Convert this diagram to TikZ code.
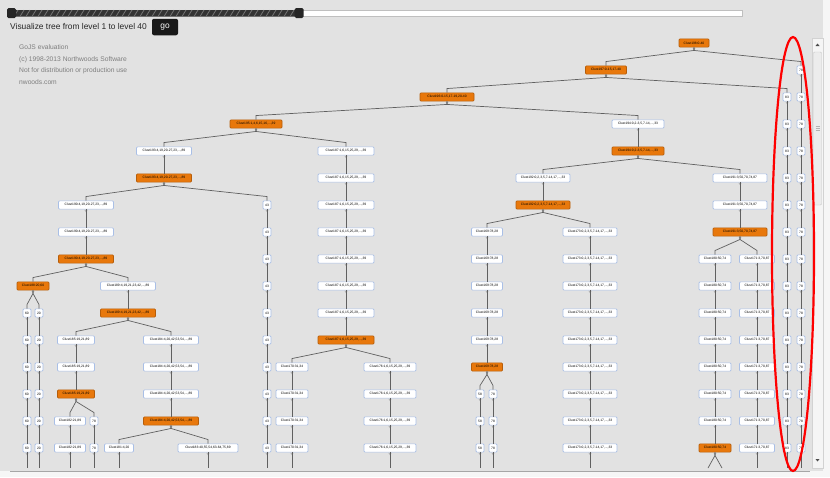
\documentclass[tikz,border=0pt]{standalone}
\usepackage{fontspec}
\setmainfont{Liberation Sans}
\usetikzlibrary{calc}
\definecolor{bg}{HTML}{E2E2E2}
\definecolor{org}{HTML}{E8780C}
\definecolor{orgb}{HTML}{B55D0A}
\definecolor{blb}{HTML}{A9BFE6}
\definecolor{edgec}{HTML}{606060}
\definecolor{wmark}{HTML}{7E7E7E}
\newcommand\labsize{\fontsize{3.3}{3.7}\selectfont}
\tikzset{
  nbase/.style={rounded corners=1pt, inner sep=0.3pt, minimum height=8.3pt, font=\labsize, line width=0.6pt},
  wn/.style={nbase, draw=blb, fill=white},
  on/.style={nbase, draw=orgb, fill=org},
  link/.style={draw=edgec, line width=0.7pt},
  port/.style={fill=gray!60},
  wmtext/.style={anchor=base west, inner sep=0pt, text=wmark, font=\fontsize{6.7}{8}\selectfont},
}
\newcommand\chain[7]{%
  \foreach \rr in {#3,...,#4}{%
    \ifnum\rr=#7 \tikzset{cur/.style={on}}\else\tikzset{cur/.style={wn}}\fi
    \node[cur, minimum width=#5] (#1-\rr) at (#2,{43+27*(\rr-1)}) {#6};
    \fill[port] ($(#1-\rr.south)+(-1.6,0.4)$) -- ++(3.2,0) -- ++(-1.6,2.4) -- cycle;
  }%
  \foreach \rr in {#3,...,#4}{%
    \ifnum\rr>#3 \pgfmathtruncatemacro\prr{\rr-1}\draw[link] (#1-\prr.south) -- (#1-\rr.north);\fi
  }}
\newcommand\fork[2]{\draw[link] (#1.south) -- ++(0,3) -- ($(#2.north)+(0,-4)$) -- (#2.north);}
\newcommand\cont[1]{\coordinate (#1-end) at (#1.south |- bot); \draw[link] (#1.south) -- (#1-end);}
\begin{document}
\begin{tikzpicture}[x=1pt,y=-1pt]
\useasboundingbox (0,0) rectangle (830,477);
\fill[bg] (0,0) rectangle (830,477);
\fill[white!70!bg] (0,471) rectangle (830,477);
\fill[white!70!bg] (823,0) rectangle (830,477);
% header: slider
\fill[white, draw=gray!50, line width=0.4pt] (300,10) rectangle (742,16.5);
\fill[black!80, rounded corners=0.5pt] (10,10) rectangle (300,16.5);
\foreach \sx in {14,20,...,296}{\draw[black!55, line width=0.8pt] (\sx,16.5) -- (\sx+4,10);}
\node[fill=black!85, rounded corners=1.5pt, minimum width=9pt, minimum height=10pt, inner sep=0pt] (h1) at (11.5,13) {};
\node[fill=black!85, rounded corners=1.5pt, minimum width=9pt, minimum height=10pt, inner sep=0pt] (h2) at (299,13) {};
\node[anchor=base west, inner sep=0pt, font=\fontsize{8.4}{10}\selectfont, text=black!85] (cap) at (10,29.8) {Visualize tree from level 1 to level 40};
\node[fill=black!90, rounded corners=2pt, minimum width=26pt, minimum height=16.5pt, inner sep=0pt, text=white, font=\fontsize{8.4}{10}\selectfont] (go) at (165,27) {go};
% watermark
\node[wmtext] (w1) at (19,49.5) {GoJS evaluation};
\node[wmtext] (w2) at (19,61) {(c) 1998-2013 Northwoods Software};
\node[wmtext] (w3) at (19,72.5) {Not for distribution or production use};
\node[wmtext] (w4) at (19,84) {nwoods.com};
% frame bottom and scrollbar
\coordinate (bot) at (0,468);
\draw[gray!70, line width=0.8pt] (10,471) -- (810,471);
\fill[gray!8, draw=gray!35, line width=0.4pt] (812,38) rectangle (823,468);
\fill[gray!15, draw=gray!45, line width=0.4pt, rounded corners=1pt] (813.5,52) rectangle (821.5,205);
\foreach \gy in {126,128,130}{\draw[gray!60, line width=0.4pt] (815.5,\gy) -- (819.5,\gy);}
\fill[black!70] (815.5,46) -- (819.5,46) -- (817.5,43.5) -- cycle;
\fill[black!70] (815.5,459) -- (819.5,459) -- (817.5,461.5) -- cycle;
% columns
\chain{R}{694}{1}{1}{30}{Clust198:0-40}{1}
\chain{B}{606}{2}{2}{41}{Clust197:0-15,17-40}{2}
\chain{C}{447}{3}{3}{54}{Clust196:0-15,17-19,20-40}{3}
\chain{D}{256}{4}{4}{52}{Clust195:1,4,6,15,16,...,39}{4}
\chain{E}{638}{4}{5}{52}{Clust194:0,2-3,5,7-14,...,33}{5}
\chain{F}{164}{5}{6}{55}{Clust193:4,19,20-27,23,...,89}{6}
\chain{G}{346}{5}{12}{56}{Clust187:1,6,15,25,29,...,39}{12}
\chain{H}{543}{6}{7}{54}{Clust192:0,2,3,5,7-14,17,...,33}{7}
\chain{I}{740}{6}{8}{54}{Clust191:3,50,70,74,87}{8}
\chain{J}{267}{7}{16}{8}{43}{0}
\chain{K}{86}{7}{9}{55}{Clust190:4,19,20-27,23,...,89}{9}
\chain{L}{487}{8}{13}{31}{Clust169:78,28}{13}
\chain{M}{590}{8}{16}{54}{Clust173:0,2,3,5,7-14,17,...,33}{0}
\chain{N}{715}{9}{16}{32}{Clust180:50,74}{16}
\chain{O}{757}{9}{16}{35}{Clust171:3,70,87}{0}
\chain{P}{33}{10}{10}{32}{Clust188:20,60}{10}
\chain{Q}{128}{10}{11}{55}{Clust189:4,19,21,23,42,...,89}{11}
\chain{SA}{27}{11}{16}{8}{60}{0}
\chain{SB}{39}{11}{16}{8}{20}{0}
\chain{T}{76}{12}{14}{37}{Clust185:19,21,89}{14}
\chain{U}{171}{12}{15}{55}{Clust184:4,20,42,53,54,...,89}{15}
\chain{V}{292}{13}{16}{32}{Clust170:31,34}{0}
\chain{W}{390}{13}{16}{52}{Clust176:1,6,15,25,29,...,39}{0}
\chain{XA}{480}{14}{16}{8}{58}{0}
\chain{XB}{493}{14}{16}{8}{78}{0}
\chain{YA}{70}{15}{16}{31}{Clust182:21,89}{0}
\chain{YB}{94}{15}{16}{8}{78}{0}
\chain{ZA}{119}{16}{16}{29}{Clust181:4,20}{0}
\chain{ZB}{208}{16}{16}{60}{Clust183:40,55,54,63-64,75,89}{0}
\chain{RA}{787}{3}{16}{8}{83}{0}
\chain{RB}{801}{2}{16}{8}{78}{0}
% forks
\fork{R-1}{B-2}\fork{R-1}{RB-2}
\fork{B-2}{C-3}\fork{B-2}{RA-3}
\fork{C-3}{D-4}\fork{C-3}{E-4}
\fork{D-4}{F-5}\fork{D-4}{G-5}
\fork{E-5}{H-6}\fork{E-5}{I-6}
\fork{F-6}{K-7}\fork{F-6}{J-7}
\fork{H-7}{L-8}\fork{H-7}{M-8}
\fork{I-8}{N-9}\fork{I-8}{O-9}
\fork{K-9}{P-10}\fork{K-9}{Q-10}
\fork{P-10}{SA-11}\fork{P-10}{SB-11}
\fork{Q-11}{T-12}\fork{Q-11}{U-12}
\fork{G-12}{V-13}\fork{G-12}{W-13}
\fork{L-13}{XA-14}\fork{L-13}{XB-14}
\fork{T-14}{YA-15}\fork{T-14}{YB-15}
\fork{U-15}{ZA-16}\fork{U-15}{ZB-16}
\coordinate (Na) at (708,468);
\coordinate (Nb) at (722,468);
\draw[link] (N-16.south) -- ++(0,3) -- (Na);
\draw[link] (N-16.south) -- ++(0,3) -- (Nb);
\foreach \cc in {J,SA,SB,YA,YB,ZA,ZB,V,W,XA,XB,M,O,RA,RB}{\cont{\cc-16}}
% highlight
\draw[red, line width=2.2pt] (793,254) ellipse [x radius=21, y radius=217];
\end{tikzpicture}
\end{document}
